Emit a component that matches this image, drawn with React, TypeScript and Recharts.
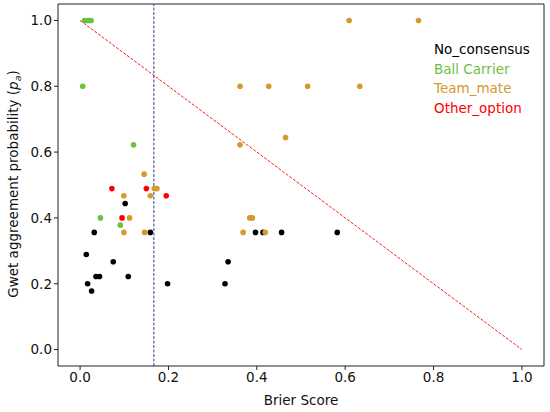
import { ReferenceLine, Scatter, ScatterChart, XAxis, YAxis } from "recharts"

const ticks = [0, 0.2, 0.4, 0.6, 0.8, 1.0]
const axisDomain = [-0.05, 1.05]

const noConsensusX = [0.102, 0.032, 0.159, 0.014, 0.075, 0.036, 0.044, 0.109, 0.017, 0.198, 0.026, 0.335, 0.328, 0.397, 0.414, 0.456, 0.582]
const noConsensusY = [0.444, 0.356, 0.356, 0.289, 0.267, 0.222, 0.222, 0.222, 0.2, 0.2, 0.178, 0.267, 0.2, 0.356, 0.356, 0.356, 0.356]

const ballCarrierX = [0.01, 0.015, 0.02, 0.025, 0.006, 0.121, 0.046, 0.091]
const ballCarrierY = [1.0, 1.0, 1.0, 1.0, 0.8, 0.622, 0.4, 0.378]

const teamMateX = [0.145, 0.168, 0.174, 0.099, 0.159, 0.112, 0.099, 0.146, 0.609, 0.766, 0.362, 0.427, 0.515, 0.633, 0.465, 0.362, 0.384, 0.39, 0.369, 0.419]
const teamMateY = [0.533, 0.489, 0.489, 0.467, 0.467, 0.4, 0.356, 0.356, 1.0, 1.0, 0.8, 0.8, 0.8, 0.8, 0.644, 0.622, 0.4, 0.4, 0.356, 0.356]

const otherOptionX = [0.072, 0.15, 0.195, 0.095]
const otherOptionY = [0.489, 0.489, 0.467, 0.4]

const brierThreshold = 0.167

const toPoints = (xs: number[], ys: number[]) => xs.map((x, i) => ({ x, y: ys[i] }))

const series = [
  { name: "No_consensus", color: "#000000", data: toPoints(noConsensusX, noConsensusY) },
  { name: "Ball Carrier", color: "#6cc13f", data: toPoints(ballCarrierX, ballCarrierY) },
  { name: "Team_mate", color: "#d49a2a", data: toPoints(teamMateX, teamMateY) },
  { name: "Other_option", color: "#ff0000", data: toPoints(otherOptionX, otherOptionY) },
]

const font = "'DejaVu Sans', sans-serif"
const axisColor = "#222"

function dot(color: string) {
  return (props: any) => <circle cx={props.cx} cy={props.cy} r={2.8} fill={color} />
}

export default function App() {
  return (
    <div style={{ position: "relative", width: 550, height: 412, fontFamily: font, background: "#fff" }}>
      <style>{`body{margin:0}`}</style>
      <ScatterChart width={550} height={412} margin={{ top: 4, right: 6, bottom: 0, left: 0 }}>
        <XAxis
          type="number"
          dataKey="x"
          domain={axisDomain}
          ticks={ticks}
          tickFormatter={(v) => v.toFixed(1)}
          height={46}
          stroke={axisColor}
          tickSize={4}
          tick={{ fontSize: 13.5, fill: "#111", fontFamily: font }}
          allowDataOverflow
        />
        <YAxis
          type="number"
          dataKey="y"
          domain={axisDomain}
          ticks={ticks}
          tickFormatter={(v) => v.toFixed(1)}
          width={58}
          stroke={axisColor}
          tickSize={4}
          tick={{ fontSize: 13.5, fill: "#111", fontFamily: font }}
          allowDataOverflow
        />
        {/* top and right spines */}
        <ReferenceLine y={1.05} stroke={axisColor} strokeWidth={1} ifOverflow="visible" />
        <ReferenceLine x={1.05} stroke={axisColor} strokeWidth={1} ifOverflow="visible" />
        <ReferenceLine
          segment={[{ x: 0, y: 1 }, { x: 1, y: 0 }]}
          stroke="#ff0000"
          strokeWidth={0.9}
          strokeDasharray="3 1.5"
        />
        <ReferenceLine x={brierThreshold} stroke="#1a2a8a" strokeWidth={0.9} strokeDasharray="3 1.5" />
        {series.map((s) => (
          <Scatter
            key={s.name}
            name={s.name}
            data={s.data}
            fill={s.color}
            shape={dot(s.color)}
            isAnimationActive={false}
          />
        ))}
      </ScatterChart>
      <div
        style={{
          position: "absolute",
          left: 301,
          top: 400,
          transform: "translate(-50%, -50%)",
          fontSize: 13.5,
          color: "#111",
          whiteSpace: "nowrap",
        }}
      >
        Brier Score
      </div>
      <div
        style={{
          position: "absolute",
          left: 14,
          top: 184,
          transform: "translate(-50%, -50%) rotate(-90deg)",
          fontSize: 13.5,
          color: "#111",
          whiteSpace: "nowrap",
        }}
      >
        Gwet aggreement probability (<i>p</i>
        <sub style={{ fontSize: 9.5 }}>
          <i>a</i>
        </sub>
        )
      </div>
      <div style={{ position: "absolute", left: 434, top: 40, fontSize: 13.5, lineHeight: "19.7px" }}>
        {series.map((s) => (
          <div key={s.name} style={{ color: s.color }}>
            {s.name}
          </div>
        ))}
      </div>
    </div>
  )
}
